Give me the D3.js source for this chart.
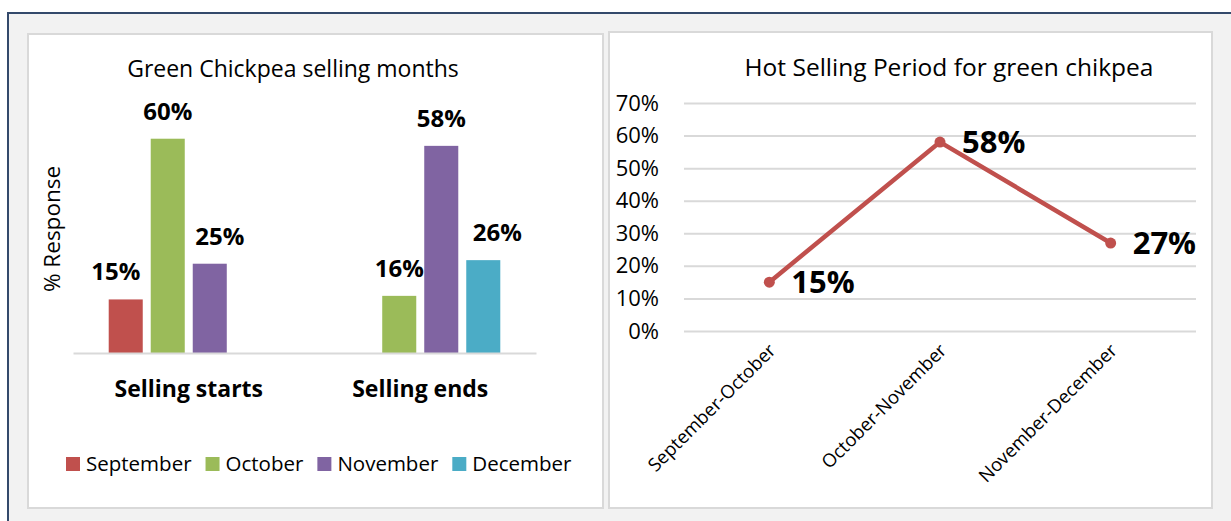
<!DOCTYPE html>
<html>
<head>
<meta charset="utf-8">
<script src="https://cdn.jsdelivr.net/npm/d3@7"></script>
<style>
  body { margin: 0; background: #fff; }
  svg { display: block; font-family: "Open Sans", sans-serif; }
</style>
</head>
<body>
<svg id="chart" width="1231" height="521"></svg>
<script>
// left chart: grouped bars
var barCategories = ["Selling starts", "Selling ends"];
var barSeries = ["September", "October", "November", "December"];
var barColors = ["#c0504d", "#9bbb59", "#8064a2", "#4bacc6"];
var sellingStarts = [0.15, 0.60, 0.25, null];
var sellingEnds = [null, 0.16, 0.58, 0.26];

// right chart: line
var periods = ["September-October", "October-November", "November-December"];
var periodValues = [0.15, 0.58, 0.27];
var lineTicks = [0, 0.1, 0.2, 0.3, 0.4, 0.5, 0.6, 0.7];

var svg = d3.select("#chart");
var pct = d3.format(".0%");

// page frame
svg.append("rect").attr("x", 8).attr("y", 13).attr("width", 1300).attr("height", 600)
  .attr("fill", "#f2f2f2").attr("stroke", "#34496b").attr("stroke-width", 2);

function panel(x0, y0, x1, y1) {
  svg.append("rect").attr("x", x0).attr("y", y0).attr("width", x1 - x0).attr("height", y1 - y0)
    .attr("fill", "#fff").attr("stroke", "#d9d9d9").attr("stroke-width", 2);
}
panel(28, 34, 603, 508);
panel(609, 32, 1212, 508);

// ---------- bar chart ----------
(function() {
  var rows = [sellingStarts, sellingEnds];
  var g = svg.append("g");

  var x0 = d3.scaleBand().domain(barCategories).range([73, 536]).padding(0);
  var x1 = d3.scaleBand().domain(barSeries).range([0, x0.bandwidth()])
    .paddingInner(0.19).paddingOuter(0.85);
  var y = d3.scaleLinear().domain([0, 0.7]).range([353, 103]);
  var color = d3.scaleOrdinal().domain(barSeries).range(barColors);

  // small sideways shifts so the labels sit like the original
  var labelNudge = [[-10, 0, 10, 0], [0, 0, 0, 14]];

  g.append("text").attr("x", 293).attr("y", 77).attr("text-anchor", "middle")
    .attr("font-size", 23).attr("fill", "#000").text("Green Chickpea selling months");

  g.append("text").attr("transform", "translate(52,229) rotate(-90)")
    .attr("text-anchor", "middle").attr("dy", "0.35em")
    .attr("font-size", 22.5).attr("fill", "#000").text("% Response");

  var groups = g.selectAll(".grp").data(barCategories).join("g")
    .attr("transform", function(d) { return "translate(" + x0(d) + ",0)"; });

  groups.each(function(cat, ci) {
    var items = barSeries.map(function(s, si) {
      return { series: s, value: rows[ci][si], nudge: labelNudge[ci][si] };
    }).filter(function(d) { return d.value != null; });

    var sel = d3.select(this);
    sel.selectAll("rect").data(items).join("rect")
      .attr("x", function(d) { return x1(d.series); })
      .attr("y", function(d) { return y(d.value); })
      .attr("width", x1.bandwidth())
      .attr("height", function(d) { return y(0) - y(d.value); })
      .attr("fill", function(d) { return color(d.series); });

    sel.selectAll("text").data(items).join("text")
      .attr("x", function(d) { return x1(d.series) + x1.bandwidth() / 2 + d.nudge; })
      .attr("y", function(d) { return y(d.value) - 19; })
      .attr("text-anchor", "middle").attr("font-weight", "bold")
      .attr("font-size", 24).attr("fill", "#000")
      .text(function(d) { return pct(d.value); });
  });

  var ax = g.append("g").attr("transform", "translate(0,353)")
    .call(d3.axisBottom(x0).tickSize(0).tickSizeOuter(0).tickPadding(28));
  ax.select(".domain").attr("stroke", "#d9d9d9").attr("stroke-width", 2);
  ax.selectAll("text").attr("font-family", "Open Sans, sans-serif").attr("font-size", 23)
    .attr("font-weight", "bold").attr("fill", "#000");

  // legend
  var lg = g.append("g").attr("transform", "translate(66,457)");
  var cx = 0;
  barSeries.forEach(function(s, i) {
    lg.append("rect").attr("x", cx).attr("y", 0).attr("width", 14).attr("height", 14)
      .attr("fill", barColors[i]);
    var t = lg.append("text").attr("x", cx + 20).attr("y", 7).attr("dy", "0.35em")
      .attr("font-size", 20.5).attr("fill", "#000").text(s);
    cx += 20 + t.node().getComputedTextLength() + 14;
  });
})();

// ---------- line chart ----------
(function() {
  var g = svg.append("g");
  var x = d3.scaleBand().domain(periods).range([684, 1196]);
  var y = d3.scaleLinear().domain([0, 0.7]).range([331, 103]);
  var cxOf = function(d) { return x(d) + x.bandwidth() / 2; };

  g.append("text").attr("x", 949).attr("y", 76).attr("text-anchor", "middle")
    .attr("font-size", 24.5).attr("fill", "#000").text("Hot Selling Period for green chikpea");

  var ay = g.append("g").attr("transform", "translate(684,0)")
    .call(d3.axisLeft(y).tickValues(lineTicks).tickFormat(pct)
      .tickSize(-(1196 - 684)).tickPadding(25));
  ay.select(".domain").remove();
  ay.selectAll("line").attr("stroke", "#d9d9d9").attr("stroke-width", 2);
  ay.selectAll("text").attr("font-family", "Open Sans, sans-serif").attr("font-size", 22)
    .attr("fill", "#000");

  var ax = g.append("g").attr("transform", "translate(0,331)")
    .call(d3.axisBottom(x).tickSize(0).tickSizeOuter(0));
  ax.select(".domain").remove();
  ax.selectAll("text")
    .attr("font-family", "Open Sans, sans-serif").attr("font-size", 18.5).attr("fill", "#000")
    .attr("text-anchor", "end").attr("y", 0).attr("dy", "0.35em")
    .attr("transform", "translate(3,16) rotate(-45)");

  var pts = periods.map(function(p, i) { return { p: p, v: periodValues[i] }; });

  g.append("path").datum(pts)
    .attr("d", d3.line().x(function(d) { return cxOf(d.p); }).y(function(d) { return y(d.v); }))
    .attr("fill", "none").attr("stroke", "#c0504d").attr("stroke-width", 4.5)
    .attr("stroke-linejoin", "round");

  g.selectAll(".pt").data(pts).join("circle")
    .attr("cx", function(d) { return cxOf(d.p); }).attr("cy", function(d) { return y(d.v); })
    .attr("r", 5.5).attr("fill", "#c0504d");

  g.selectAll(".lbl").data(pts).join("text")
    .attr("x", function(d) { return cxOf(d.p) + 22; }).attr("y", function(d) { return y(d.v); })
    .attr("dy", "0.36em").attr("font-size", 31).attr("font-weight", "bold").attr("fill", "#000")
    .text(function(d) { return pct(d.v); });
})();
</script>
</body>
</html>
